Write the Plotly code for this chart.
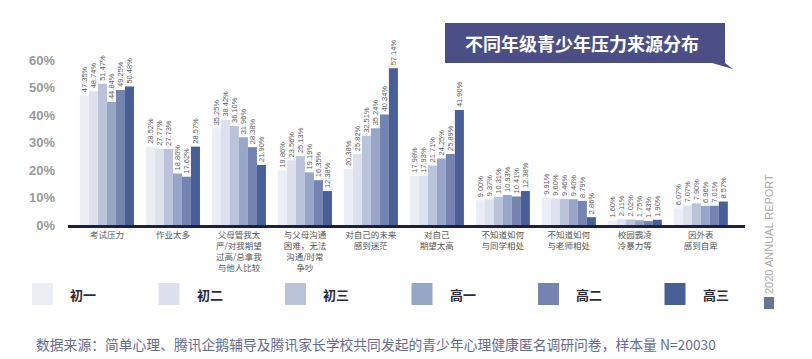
import plotly.graph_objects as go

categories = [
    "考试压力",
    "作业太多",
    "父母管我太<br>严/对我期望<br>过高/总拿我<br>与他人比较",
    "与父母沟通<br>困难，无法<br>沟通/时常<br>争吵",
    "对自己的未来<br>感到迷茫",
    "对自己<br>期望太高",
    "不知道如何<br>与同学相处",
    "不知道如何<br>与老师相处",
    "校园霸凌<br>冷暴力等",
    "因外表<br>感到自卑",
]

grades = ["初一", "初二", "初三", "高一", "高二", "高三"]

v_chu1 = [47.35, 28.52, 35.25, 19.86, 20.38, 17.98, 9.00, 9.91, 1.60, 6.07]
v_chu2 = [48.74, 27.77, 38.42, 23.56, 25.82, 17.93, 9.37, 9.60, 2.11, 7.07]
v_chu3 = [51.47, 27.73, 36.10, 25.13, 32.51, 21.71, 10.31, 9.46, 2.02, 7.90]
v_gao1 = [44.84, 18.80, 31.96, 19.19, 35.24, 24.25, 10.93, 9.40, 1.75, 6.96]
v_gao2 = [49.25, 17.62, 28.38, 16.35, 40.34, 25.89, 10.41, 8.79, 1.43, 7.01]
v_gao3 = [50.48, 28.57, 21.90, 12.38, 57.14, 41.90, 12.38, 2.86, 1.90, 8.57]

series = [v_chu1, v_chu2, v_chu3, v_gao1, v_gao2, v_gao3]
colors = ["#eceef6", "#dde1ee", "#bac3da", "#97a5c7", "#7483b0", "#4a5e98"]

title_text = "不同年级青少年压力来源分布"
source_text = "数据来源：简单心理、腾讯企鹅辅导及腾讯家长学校共同发起的青少年心理健康匿名调研问卷，样本量 N=20030"
side_text = "2020 ANNUAL REPORT"

W, H = 812, 359
ML, MR, MT, MB = 68, 67, 55, 134
PW = W - ML - MR
PH = H - MT - MB


def px(x):
    return (x - ML) / PW


def py(y):
    return (H - MB - y) / PH


CJK = "Noto Sans CJK SC, Liberation Sans, sans-serif"

fig = go.Figure()
for name, vals, col in zip(grades, series, colors):
    fig.add_trace(go.Bar(
        x=list(range(len(categories))),
        y=vals,
        name=name,
        marker=dict(color=col, line=dict(width=0)),
        text=[f"{v:.2f}%" for v in vals],
        textposition="outside",
        textangle=-90,
        constraintext="none",
        cliponaxis=False,
        textfont=dict(size=7.5, color="#5a5a5a", family="Liberation Sans"),
        showlegend=False,
    ))

shapes = []
annotations = []

# title box
shapes.append(dict(type="rect", xref="paper", yref="paper",
                   x0=px(445), x1=px(725), y0=py(63), y1=py(23),
                   fillcolor="#4b4f86", line=dict(width=0), layer="above"))
shapes.append(dict(type="path", xref="paper", yref="paper",
                   path=f"M {px(712)} {py(63)} L {px(725)} {py(63)} L {px(733)} {py(69)} Z",
                   fillcolor="#4b4f86", line=dict(width=0)))
annotations.append(dict(text=f"<b>{title_text}</b>", xref="paper", yref="paper",
                        x=px(582), y=py(43), xanchor="center", yanchor="middle",
                        showarrow=False,
                        font=dict(size=18, color="white", family=CJK)))

# legend built from grades/colors
for i, (name, col) in enumerate(zip(grades, colors)):
    x0 = 32 + i * 126.5
    shapes.append(dict(type="rect", xref="paper", yref="paper",
                       x0=px(x0), x1=px(x0 + 21), y0=py(305), y1=py(283),
                       fillcolor=col, line=dict(width=0)))
    annotations.append(dict(text=f"<b>{name}</b>", xref="paper", yref="paper",
                            x=px(x0 + 36), y=py(294), xanchor="left", yanchor="middle",
                            showarrow=False,
                            font=dict(size=13, color="#2b2b3a", family=CJK)))

# source
annotations.append(dict(text=source_text, xref="paper", yref="paper",
                        x=px(34), y=py(344), xanchor="left", yanchor="middle",
                        showarrow=False,
                        font=dict(size=13.8, color="#656a90", family=CJK)))

# side text
annotations.append(dict(text=side_text, xref="paper", yref="paper",
                        x=px(769), y=py(234), xanchor="center", yanchor="middle",
                        textangle=-90, showarrow=False,
                        font=dict(size=11, color="#a8a8a8", family="Liberation Sans")))
shapes.append(dict(type="rect", xref="paper", yref="paper",
                   x0=px(764), x1=px(774), y0=py(309), y1=py(297),
                   fillcolor="#6b7590", line=dict(width=0)))

fig.update_layout(
    width=W, height=H,
    margin=dict(l=ML, r=MR, t=MT, b=MB),
    paper_bgcolor="white", plot_bgcolor="white",
    barmode="group", bargap=0.18, bargroupgap=0,
    font=dict(family=CJK),
    shapes=shapes, annotations=annotations,
    xaxis=dict(
        range=[-0.59, 9.67],
        tickmode="array",
        tickvals=list(range(len(categories))),
        ticktext=categories,
        tickfont=dict(size=8.5, color="#555555", family=CJK),
        showline=True, linecolor="#1d2040", linewidth=3,
        showgrid=False, zeroline=False, ticks="",
    ),
    yaxis=dict(
        range=[0, 62], dtick=10, ticksuffix="%",
        showgrid=False, zeroline=False, showline=False,
        tickfont=dict(size=13, color="#9a9a9a", family="Liberation Sans", weight="bold"),
        ticklabelstandoff=12,
    ),
)

fig.write_html("out.html", config={"displayModeBar": False},
               post_script="document.body.style.margin='0';")
